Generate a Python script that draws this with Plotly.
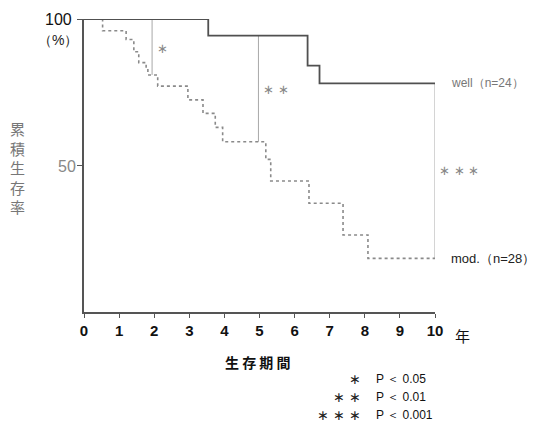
import plotly.graph_objects as go

# ---- data ----
years = [0, 1, 2, 3, 4, 5, 6, 7, 8, 9, 10]
well_t = [0, 3.54, 6.37, 6.71, 10]
well_s = [100, 94.3, 84.1, 78.0, 78.0]
mod_t = [0, 0.53, 1.20, 1.42, 1.56, 1.77, 1.82, 2.10, 2.96, 3.39, 3.74, 3.95, 5.18, 5.32, 6.41, 7.38, 8.09, 10]
mod_s = [100, 96.0, 93.0, 88.8, 85.1, 83.0, 80.9, 77.1, 72.4, 67.8, 63.0, 58.1, 52.1, 44.7, 37.1, 26.3, 18.3, 18.3]
brk_t = [1.94, 4.97, 10]
brk_hi = [100, 94.3, 78.0]
brk_lo = [80.9, 58.1, 18.3]
brk_lab = ["∗", "∗ ∗", "∗ ∗ ∗"]
well_label = "well（n=24）"
mod_label = "mod.（n=28）"
ytitle_chars = ["累", "積", "生", "存", "率"]
xtitle = "生 存 期 間"
pval_stars = ["∗", "∗ ∗", "∗ ∗ ∗"]
pval_text = ["P ＜ 0.05", "P ＜ 0.01", "P ＜ 0.001"]

W, H = 538, 422
L, R, T, B = 83.5, 435, 19, 312

def px(x):
    return (x - L) / (R - L)

def py(y):
    return (B - y) / (B - T)

JP = "Noto Sans CJK JP"
SANS = "Liberation Sans, Arial, sans-serif"

fig = go.Figure()

# significance brackets
for t, hi, lo in zip(brk_t, brk_hi, brk_lo):
    fig.add_trace(go.Scatter(x=[t, t], y=[hi, lo], mode="lines",
                             line=dict(color="#a8a8a8", width=1), hoverinfo="skip", showlegend=False))

fig.add_trace(go.Scatter(x=mod_t, y=mod_s, mode="lines", line_shape="hv",
                         line=dict(color="#8a8a8a", width=1.6, dash="dot"), showlegend=False))
fig.add_trace(go.Scatter(x=well_t, y=well_s, mode="lines", line_shape="hv",
                         line=dict(color="#505050", width=1.8), showlegend=False))

ann = []

def add(xp, yp, text, size, color, family=SANS, xanchor="center"):
    ann.append(dict(x=px(xp), y=py(yp), text=text, xref="paper", yref="paper", showarrow=False,
                    xanchor=xanchor, yanchor="middle", font=dict(family=family, size=size, color=color)))

# bracket star labels
add(162, 48, brk_lab[0], 13, "#888")
add(276, 89, brk_lab[1], 13, "#888")
add(459, 171, brk_lab[2], 13, "#888")
# curve labels
add(449, 83, well_label, 12, "#777", xanchor="left")
add(449, 258, mod_label, 13, "#222", xanchor="left")
# y tick labels
add(73, 19, "100", 16, "#111", xanchor="right")
add(57, 40, "（%）", 14, "#222")
add(77, 166, "50", 16, "#888", xanchor="right")
# y title
ann.append(dict(x=px(17), y=py(167), text="<br>".join(ytitle_chars), xref="paper", yref="paper",
                xanchor="center", yanchor="middle", showarrow=False,
                font=dict(family=JP, size=15, color="#777")))
# x unit
add(463, 335, "年", 15, "#111", family=JP)
# x title
add(258, 362, "<b>" + xtitle + "</b>", 14, "#111", family=JP)
# p-value key
for i, (s, p) in enumerate(zip(pval_stars, pval_text)):
    yy = [379, 397, 415][i]
    add(363, yy, s, 14, "#222", xanchor="right")
    add(374, yy, p, 12, "#111", xanchor="left")

fig.update_layout(
    width=W, height=H,
    margin=dict(l=L, r=W - R, t=T, b=H - B),
    paper_bgcolor="white", plot_bgcolor="white",
    annotations=ann,
    xaxis=dict(range=[0, 10], tickvals=years, ticktext=[str(v) for v in years],
               showgrid=False, zeroline=False, showline=True, linecolor="#555", linewidth=2,
               ticks="outside", ticklen=4, tickcolor="#555",
               tickfont=dict(family=SANS, size=15, color="#111", weight="bold")),
    yaxis=dict(range=[0, 100], tickvals=[50, 100], showticklabels=False,
               showgrid=False, zeroline=False, showline=True, linecolor="#555", linewidth=2,
               ticks="outside", ticklen=5, tickcolor="#555"),
)

fig.write_html("out.html", config={"displayModeBar": False},
               post_script="document.body.style.margin='0';")
